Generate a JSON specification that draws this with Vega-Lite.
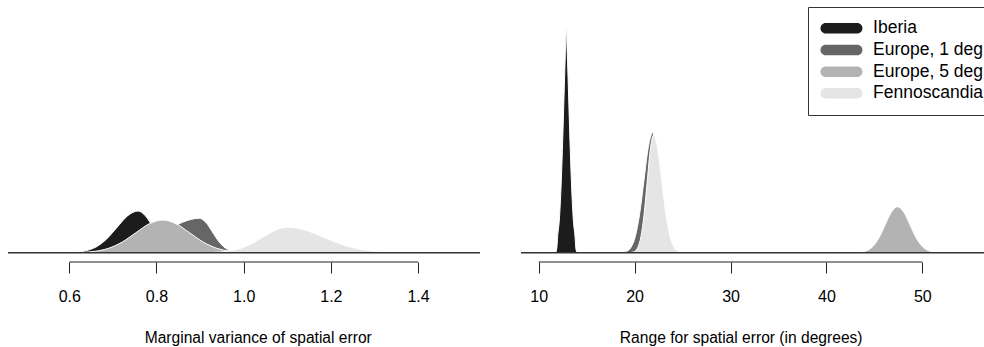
{
  "$schema": "https://vega.github.io/schema/vega-lite/v6.json",
  "autosize": {"type": "pad"},
  "padding": {"left": 7, "top": 5, "right": -11, "bottom": 0},
  "background": "white",
  "config": {
    "view": {"stroke": null},
    "font": "Liberation Sans",
    "concat": {"spacing": 39},
    "axis": {
      "grid": false,
      "domain": false,
      "ticks": true,
      "tickColor": "#222",
      "tickSize": 11,
      "tickWidth": 1,
      "labelFont": "Liberation Sans",
      "labelFontSize": 16,
      "labelColor": "#000",
      "labelBaseline": "alphabetic",
      "labelPadding": 28.7,
      "labelFlush": false,
      "titleFont": "Liberation Sans",
      "titleFontSize": 15.6,
      "titleFontWeight": "normal",
      "titleColor": "#000",
      "titleBaseline": "alphabetic",
      "titleAlign": "center",
      "titleY": 80.9
    }
  },
  "datasets": {
    "marginal": [
      {"region": "Iberia", "value": 0.5648, "density": 0.003},
      {"region": "Iberia", "value": 0.5889, "density": 0.025},
      {"region": "Iberia", "value": 0.6130, "density": 0.125},
      {"region": "Iberia", "value": 0.6371, "density": 0.496},
      {"region": "Iberia", "value": 0.6612, "density": 1.529},
      {"region": "Iberia", "value": 0.6853, "density": 3.669},
      {"region": "Iberia", "value": 0.7094, "density": 6.853},
      {"region": "Iberia", "value": 0.7335, "density": 9.972},
      {"region": "Iberia", "value": 0.7576, "density": 11.3},
      {"region": "Iberia", "value": 0.7748, "density": 9.972},
      {"region": "Iberia", "value": 0.7920, "density": 6.853},
      {"region": "Iberia", "value": 0.8092, "density": 3.669},
      {"region": "Iberia", "value": 0.8264, "density": 1.529},
      {"region": "Iberia", "value": 0.8436, "density": 0.496},
      {"region": "Iberia", "value": 0.8608, "density": 0.125},
      {"region": "Iberia", "value": 0.8780, "density": 0.025},
      {"region": "Iberia", "value": 0.8952, "density": 0.003},
      {"region": "Europe, 1 deg", "value": 0.5862, "density": 0.003},
      {"region": "Europe, 1 deg", "value": 0.6252, "density": 0.021},
      {"region": "Europe, 1 deg", "value": 0.6642, "density": 0.103},
      {"region": "Europe, 1 deg", "value": 0.7032, "density": 0.409},
      {"region": "Europe, 1 deg", "value": 0.7422, "density": 1.261},
      {"region": "Europe, 1 deg", "value": 0.7812, "density": 3.026},
      {"region": "Europe, 1 deg", "value": 0.8202, "density": 5.653},
      {"region": "Europe, 1 deg", "value": 0.8592, "density": 8.225},
      {"region": "Europe, 1 deg", "value": 0.8982, "density": 9.32},
      {"region": "Europe, 1 deg", "value": 0.9131, "density": 8.225},
      {"region": "Europe, 1 deg", "value": 0.9280, "density": 5.653},
      {"region": "Europe, 1 deg", "value": 0.9429, "density": 3.026},
      {"region": "Europe, 1 deg", "value": 0.9578, "density": 1.261},
      {"region": "Europe, 1 deg", "value": 0.9727, "density": 0.409},
      {"region": "Europe, 1 deg", "value": 0.9876, "density": 0.103},
      {"region": "Europe, 1 deg", "value": 1.0025, "density": 0.021},
      {"region": "Europe, 1 deg", "value": 1.0174, "density": 0.003},
      {"region": "Europe, 5 deg", "value": 0.5662, "density": 0.003},
      {"region": "Europe, 5 deg", "value": 0.5972, "density": 0.019},
      {"region": "Europe, 5 deg", "value": 0.6282, "density": 0.098},
      {"region": "Europe, 5 deg", "value": 0.6592, "density": 0.389},
      {"region": "Europe, 5 deg", "value": 0.6902, "density": 1.199},
      {"region": "Europe, 5 deg", "value": 0.7212, "density": 2.877},
      {"region": "Europe, 5 deg", "value": 0.7522, "density": 5.374},
      {"region": "Europe, 5 deg", "value": 0.7832, "density": 7.819},
      {"region": "Europe, 5 deg", "value": 0.8142, "density": 8.86},
      {"region": "Europe, 5 deg", "value": 0.8452, "density": 7.819},
      {"region": "Europe, 5 deg", "value": 0.8762, "density": 5.374},
      {"region": "Europe, 5 deg", "value": 0.9072, "density": 2.877},
      {"region": "Europe, 5 deg", "value": 0.9382, "density": 1.199},
      {"region": "Europe, 5 deg", "value": 0.9692, "density": 0.389},
      {"region": "Europe, 5 deg", "value": 1.0002, "density": 0.098},
      {"region": "Europe, 5 deg", "value": 1.0312, "density": 0.019},
      {"region": "Europe, 5 deg", "value": 1.0622, "density": 0.003},
      {"region": "Fennoscandia", "value": 0.8717, "density": 0.002},
      {"region": "Fennoscandia", "value": 0.9003, "density": 0.015},
      {"region": "Fennoscandia", "value": 0.9290, "density": 0.076},
      {"region": "Fennoscandia", "value": 0.9576, "density": 0.302},
      {"region": "Fennoscandia", "value": 0.9863, "density": 0.931},
      {"region": "Fennoscandia", "value": 1.0149, "density": 2.234},
      {"region": "Fennoscandia", "value": 1.0436, "density": 4.173},
      {"region": "Fennoscandia", "value": 1.0722, "density": 6.072},
      {"region": "Fennoscandia", "value": 1.1009, "density": 6.88},
      {"region": "Fennoscandia", "value": 1.1422, "density": 6.072},
      {"region": "Fennoscandia", "value": 1.1835, "density": 4.173},
      {"region": "Fennoscandia", "value": 1.2248, "density": 2.234},
      {"region": "Fennoscandia", "value": 1.2661, "density": 0.931},
      {"region": "Fennoscandia", "value": 1.3074, "density": 0.302},
      {"region": "Fennoscandia", "value": 1.3487, "density": 0.076},
      {"region": "Fennoscandia", "value": 1.3900, "density": 0.015},
      {"region": "Fennoscandia", "value": 1.4313, "density": 0.002}
    ],
    "range": [
      {"region": "Iberia", "value": 11.785, "density": 0.003},
      {"region": "Iberia", "value": 11.889, "density": 0.029},
      {"region": "Iberia", "value": 11.973, "density": 0.103},
      {"region": "Iberia", "value": 12.15, "density": 0.211},
      {"region": "Iberia", "value": 12.327, "density": 0.421},
      {"region": "Iberia", "value": 12.463, "density": 0.653},
      {"region": "Iberia", "value": 12.567, "density": 0.857},
      {"region": "Iberia", "value": 12.671, "density": 1.074},
      {"region": "Iberia", "value": 12.776, "density": 1.278},
      {"region": "Iberia", "value": 12.88, "density": 1.452},
      {"region": "Iberia", "value": 12.984, "density": 1.278},
      {"region": "Iberia", "value": 13.089, "density": 1.074},
      {"region": "Iberia", "value": 13.193, "density": 0.857},
      {"region": "Iberia", "value": 13.297, "density": 0.653},
      {"region": "Iberia", "value": 13.433, "density": 0.421},
      {"region": "Iberia", "value": 13.61, "density": 0.211},
      {"region": "Iberia", "value": 13.787, "density": 0.103},
      {"region": "Iberia", "value": 13.871, "density": 0.029},
      {"region": "Iberia", "value": 13.975, "density": 0.003},
      {"region": "Europe, 1 deg", "value": 18.259, "density": 0.0002},
      {"region": "Europe, 1 deg", "value": 18.713, "density": 0.0017},
      {"region": "Europe, 1 deg", "value": 19.166, "density": 0.0086},
      {"region": "Europe, 1 deg", "value": 19.619, "density": 0.034},
      {"region": "Europe, 1 deg", "value": 20.073, "density": 0.1047},
      {"region": "Europe, 1 deg", "value": 20.526, "density": 0.251},
      {"region": "Europe, 1 deg", "value": 20.98, "density": 0.469},
      {"region": "Europe, 1 deg", "value": 21.434, "density": 0.683},
      {"region": "Europe, 1 deg", "value": 21.887, "density": 0.774},
      {"region": "Europe, 1 deg", "value": 22.2, "density": 0.683},
      {"region": "Europe, 1 deg", "value": 22.513, "density": 0.469},
      {"region": "Europe, 1 deg", "value": 22.826, "density": 0.251},
      {"region": "Europe, 1 deg", "value": 23.139, "density": 0.1047},
      {"region": "Europe, 1 deg", "value": 23.452, "density": 0.034},
      {"region": "Europe, 1 deg", "value": 23.765, "density": 0.0086},
      {"region": "Europe, 1 deg", "value": 24.078, "density": 0.0017},
      {"region": "Europe, 1 deg", "value": 24.391, "density": 0.0002},
      {"region": "Europe, 5 deg", "value": 42.26, "density": 0.0001},
      {"region": "Europe, 5 deg", "value": 42.905, "density": 0.0007},
      {"region": "Europe, 5 deg", "value": 43.55, "density": 0.0033},
      {"region": "Europe, 5 deg", "value": 44.195, "density": 0.013},
      {"region": "Europe, 5 deg", "value": 44.84, "density": 0.0402},
      {"region": "Europe, 5 deg", "value": 45.485, "density": 0.0964},
      {"region": "Europe, 5 deg", "value": 46.13, "density": 0.18},
      {"region": "Europe, 5 deg", "value": 46.775, "density": 0.2619},
      {"region": "Europe, 5 deg", "value": 47.42, "density": 0.2968},
      {"region": "Europe, 5 deg", "value": 48.065, "density": 0.2619},
      {"region": "Europe, 5 deg", "value": 48.71, "density": 0.18},
      {"region": "Europe, 5 deg", "value": 49.355, "density": 0.0964},
      {"region": "Europe, 5 deg", "value": 50.0, "density": 0.0402},
      {"region": "Europe, 5 deg", "value": 50.645, "density": 0.013},
      {"region": "Europe, 5 deg", "value": 51.29, "density": 0.0033},
      {"region": "Europe, 5 deg", "value": 51.935, "density": 0.0007},
      {"region": "Europe, 5 deg", "value": 52.58, "density": 0.0001},
      {"region": "Fennoscandia", "value": 19.343, "density": 0.0002},
      {"region": "Fennoscandia", "value": 19.672, "density": 0.0017},
      {"region": "Fennoscandia", "value": 20.0, "density": 0.0084},
      {"region": "Fennoscandia", "value": 20.329, "density": 0.0333},
      {"region": "Fennoscandia", "value": 20.657, "density": 0.1027},
      {"region": "Fennoscandia", "value": 20.986, "density": 0.246},
      {"region": "Fennoscandia", "value": 21.314, "density": 0.46},
      {"region": "Fennoscandia", "value": 21.643, "density": 0.67},
      {"region": "Fennoscandia", "value": 21.971, "density": 0.759},
      {"region": "Fennoscandia", "value": 22.404, "density": 0.67},
      {"region": "Fennoscandia", "value": 22.836, "density": 0.46},
      {"region": "Fennoscandia", "value": 23.269, "density": 0.246},
      {"region": "Fennoscandia", "value": 23.701, "density": 0.1027},
      {"region": "Fennoscandia", "value": 24.134, "density": 0.0333},
      {"region": "Fennoscandia", "value": 24.566, "density": 0.0084},
      {"region": "Fennoscandia", "value": 24.999, "density": 0.0017},
      {"region": "Fennoscandia", "value": 25.431, "density": 0.0002}
    ]
  },
  "resolve": {
    "scale": {"x": "independent", "y": "independent", "color": "independent"},
    "legend": {"color": "independent"}
  },
  "hconcat": [
    {
      "width": 472,
      "height": 257,
      "data": {"name": "marginal"},
      "layer": [
        {
          "encoding": {
            "x": {
              "field": "value", "type": "quantitative",
              "scale": {"domain": [0.4594, 1.542], "nice": false, "zero": false},
              "axis": {"values": [0.6, 0.8, 1.0, 1.2, 1.4], "format": ".1f", "title": "Marginal variance of spatial error", "titleX": 249.7}
            },
            "y": {
              "field": "density", "type": "quantitative", "stack": null,
              "scale": {"domain": [-2.52, 67.127], "nice": false, "zero": false},
              "axis": null
            },
            "y2": {"datum": 0},
            "color": {
              "field": "region", "type": "nominal",
              "scale": {"domain": ["Iberia", "Europe, 1 deg", "Europe, 5 deg", "Fennoscandia"], "range": ["#1c1c1c", "#666666", "#b3b3b3", "#e5e5e5"]},
              "legend": null
            }
          },
          "layer": [
            {"transform": [{"filter": "datum.region === 'Iberia'"}], "mark": {"type": "area", "interpolate": "monotone", "stroke": "white", "strokeWidth": 1, "fillOpacity": 1}},
            {"transform": [{"filter": "datum.region === 'Europe, 1 deg'"}], "mark": {"type": "area", "interpolate": "monotone", "stroke": "white", "strokeWidth": 1, "fillOpacity": 1}},
            {"transform": [{"filter": "datum.region === 'Europe, 5 deg'"}], "mark": {"type": "area", "interpolate": "monotone", "stroke": "white", "strokeWidth": 1, "fillOpacity": 1}},
            {"transform": [{"filter": "datum.region === 'Fennoscandia'"}], "mark": {"type": "area", "interpolate": "monotone", "stroke": "white", "strokeWidth": 1, "fillOpacity": 1}}
          ]
        },
        {
          "data": {"values": [{}]},
          "mark": {"type": "rule", "color": "#333", "strokeWidth": 1.5},
          "encoding": {"y": {"datum": 0}}
        },
        {
          "data": {"values": [{}]},
          "mark": {"type": "rule", "color": "#222", "strokeWidth": 1},
          "encoding": {"x": {"datum": 0.6}, "x2": {"datum": 1.4}, "y": {"datum": -2.52}}
        }
      ]
    },
    {
      "width": 463,
      "height": 257,
      "data": {"name": "range"},
      "layer": [
        {
          "encoding": {
            "x": {
              "field": "value", "type": "quantitative",
              "scale": {"domain": [8.154, 56.43], "nice": false, "zero": false},
              "axis": {"values": [10, 20, 30, 40, 50], "title": "Range for spatial error (in degrees)", "titleX": 219.7}
            },
            "y": {
              "field": "density", "type": "quantitative", "stack": null,
              "scale": {"domain": [-0.06, 1.598], "nice": false, "zero": false},
              "axis": null
            },
            "y2": {"datum": 0},
            "color": {
              "field": "region", "type": "nominal",
              "scale": {"domain": ["Iberia", "Europe, 1 deg", "Europe, 5 deg", "Fennoscandia"], "range": ["#1c1c1c", "#666666", "#b3b3b3", "#e5e5e5"]},
              "legend": {
                "orient": "none", "legendX": 287, "legendY": 2.0, "title": null,
                "symbolType": "M -2.1 -0.7 L 2.1 -0.7 A 0.7 0.7 0 0 1 2.1 0.7 L -2.1 0.7 A 0.7 0.7 0 0 1 -2.1 -0.7 Z",
                "symbolSize": 225, "symbolStrokeWidth": 0, "symbolOpacity": 1,
                "labelFont": "Liberation Sans", "labelFontSize": 17.5, "labelColor": "#000", "labelLimit": 300,
                "strokeColor": "#333", "fillColor": "white", "padding": 12.5, "rowPadding": 2.7,
                "symbolOffset": 12.2, "labelOffset": 22.9
              }
            }
          },
          "layer": [
            {"transform": [{"filter": "datum.region === 'Iberia'"}], "mark": {"type": "area", "interpolate": "monotone", "stroke": "white", "strokeWidth": 1, "fillOpacity": 1}},
            {"transform": [{"filter": "datum.region === 'Europe, 1 deg'"}], "mark": {"type": "area", "interpolate": "monotone", "stroke": "white", "strokeWidth": 1, "fillOpacity": 1}},
            {"transform": [{"filter": "datum.region === 'Europe, 5 deg'"}], "mark": {"type": "area", "interpolate": "monotone", "stroke": "white", "strokeWidth": 1, "fillOpacity": 1}},
            {"transform": [{"filter": "datum.region === 'Fennoscandia'"}], "mark": {"type": "area", "interpolate": "monotone", "stroke": "white", "strokeWidth": 1, "fillOpacity": 1}}
          ]
        },
        {
          "data": {"values": [{}]},
          "mark": {"type": "rule", "color": "#333", "strokeWidth": 1.5},
          "encoding": {"y": {"datum": 0}}
        },
        {
          "data": {"values": [{}]},
          "mark": {"type": "rule", "color": "#222", "strokeWidth": 1},
          "encoding": {"x": {"datum": 10}, "x2": {"datum": 50}, "y": {"datum": -0.06}}
        }
      ]
    }
  ]
}
